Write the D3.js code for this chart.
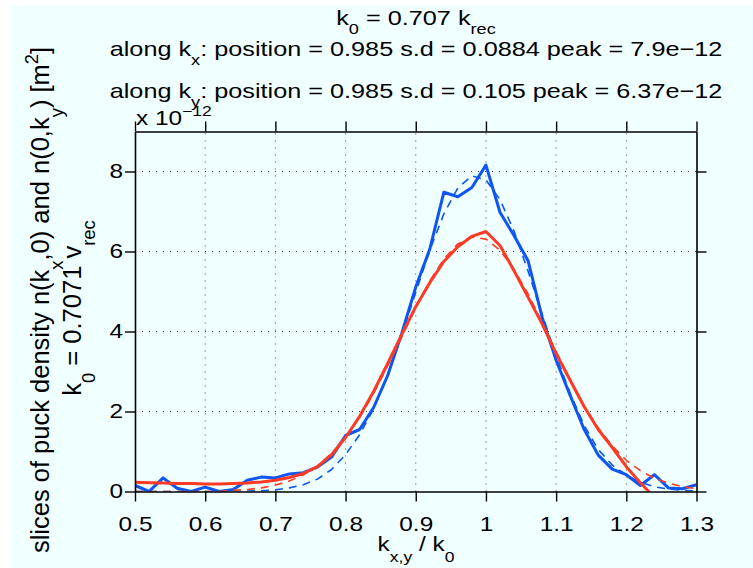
<!DOCTYPE html>
<html><head><meta charset="utf-8">
<script src="https://cdn.jsdelivr.net/npm/d3@7"></script>
<style>
body{margin:0;background:#fff}
svg text{font-family:"Liberation Sans",Arial,Helvetica,sans-serif;fill:#000}
</style>
</head><body><svg id="c" width="753" height="568"></svg>
<script>
// ---- data ----
const kValues = [0.50,0.52,0.54,0.56,0.58,0.60,0.62,0.64,0.66,0.68,0.70,0.72,0.74,0.76,0.78,0.80,0.82,0.84,0.86,0.88,0.90,0.92,0.94,0.96,0.98,1.00,1.02,1.04,1.06,1.08,1.10,1.12,1.14,1.16,1.18,1.20,1.22,1.24,1.26,1.28,1.30];
// slice along kx (units of 1e-12)
const sliceKx = [0.15,0.00,0.34,0.08,0.00,0.11,0.00,0.05,0.28,0.36,0.34,0.44,0.47,0.61,0.86,1.40,1.55,2.10,2.90,3.95,5.11,6.06,7.48,7.37,7.60,8.16,6.98,6.40,5.77,4.36,3.28,2.40,1.55,0.91,0.56,0.42,0.15,0.42,0.09,0.07,0.17];
const fitKx   = [0.00,0.00,0.00,0.00,0.00,0.00,0.00,0.00,0.01,0.02,0.04,0.09,0.17,0.31,0.55,0.92,1.42,2.07,2.91,3.90,4.98,6.03,6.94,7.59,7.89,7.79,7.30,6.51,5.51,4.43,3.39,2.46,1.65,1.05,0.66,0.41,0.23,0.12,0.06,0.03,0.01];
// slice along ky
const sliceKy = [0.23,0.22,0.21,0.20,0.20,0.19,0.19,0.20,0.21,0.24,0.28,0.35,0.45,0.62,0.92,1.35,1.88,2.50,3.20,3.92,4.62,5.22,5.75,6.12,6.38,6.50,6.15,5.52,4.86,4.19,3.45,2.78,2.12,1.55,1.10,0.62,0.22,-0.15,-0.40,-0.50,-0.50];
const fitKy   = [0.00,0.00,0.00,0.00,0.00,0.00,0.00,0.03,0.05,0.09,0.16,0.26,0.42,0.64,0.95,1.35,1.85,2.45,3.14,3.86,4.59,5.26,5.81,6.19,6.36,6.31,6.03,5.55,4.94,4.23,3.50,2.79,2.14,1.59,1.14,0.78,0.52,0.33,0.21,0.12,0.07];
const xTicks = [0.5,0.6,0.7,0.8,0.9,1.0,1.1,1.2,1.3];
const xTickLabels = ["0.5","0.6","0.7","0.8","0.9","1","1.1","1.2","1.3"];
const yTicks = [0,2,4,6,8];
const yTickLabels = ["0","2","4","6","8"];

// ---- layout ----
const SX = 1.22;
const m = {l:135, r:696.5, t:131.5, b:491.5};
const svg = d3.select("#c");
svg.append("rect").attr("x",12).attr("y",6).attr("width",741).attr("height",562).attr("fill","#f0ffff");

const x = d3.scaleLinear().domain([0.5,1.3]).range([m.l,m.r]);
const y = d3.scaleLinear().domain([0,9]).range([m.b,m.t]);

// grid
const grid = svg.append("g").attr("stroke","#444").attr("stroke-width",1).attr("stroke-dasharray","1,6");
xTicks.slice(1,-1).forEach(v=>grid.append("line").attr("x1",x(v)).attr("x2",x(v)).attr("y1",m.b).attr("y2",m.t));
yTicks.slice(1).forEach(v=>grid.append("line").attr("y1",y(v)).attr("y2",y(v)).attr("x1",m.l).attr("x2",m.r));

// lines
svg.append("defs").append("clipPath").attr("id","pc").append("rect")
  .attr("x",m.l).attr("y",m.t).attr("width",m.r-m.l).attr("height",m.b-m.t);
const line = d3.line().x(d=>x(d[0])).y(d=>y(d[1]));
const pl = svg.append("g").attr("clip-path","url(#pc)").attr("fill","none").attr("stroke-linejoin","round");
const BLUE="#0f55f2", RED="#ff3a24";
function series(vals, color, dashed){
  pl.append("path").datum(kValues.map((k,i)=>[k,vals[i]])).attr("d",line)
    .attr("stroke",color).attr("stroke-width",dashed?1.6:3)
    .attr("stroke-dasharray",dashed?"8,6":null);
}
series(sliceKx,BLUE,false);
series(fitKx,BLUE,true);
series(sliceKy,RED,false);
series(fitKy,RED,true);

// axes
function styleAxis(g){
  g.selectAll(".domain").attr("stroke","#000").attr("stroke-width",1.6);
  g.selectAll(".tick line").attr("stroke","#000").attr("stroke-width",1.4);
  g.attr("font-family",null).attr("font-size",null);
  g.selectAll("text").attr("font-size",20);
}
const gb = svg.append("g").attr("transform",`translate(0,${m.b})`)
  .call(d3.axisBottom(x).tickValues(xTicks).tickFormat((d,i)=>xTickLabels[i]).tickSize(10).tickSizeOuter(0).tickPadding(15.5));
styleAxis(gb); gb.selectAll("text").attr("transform",`scale(${SX},1)`);
const gt = svg.append("g").attr("transform",`translate(0,${m.t})`)
  .call(d3.axisTop(x).tickValues(xTicks).tickFormat("").tickSize(10).tickSizeOuter(0));
styleAxis(gt);
const gl = svg.append("g").attr("transform",`translate(${m.l},0)`)
  .call(d3.axisLeft(y).tickValues(yTicks).tickFormat((d,i)=>yTickLabels[i]).tickSize(10).tickSizeOuter(0).tickPadding(2));
styleAxis(gl); gl.selectAll("text").attr("x",-12/SX).attr("transform",`scale(${SX},1)`);
const gr = svg.append("g").attr("transform",`translate(${m.r},0)`)
  .call(d3.axisRight(y).tickValues(yTicks).tickFormat("").tickSize(10).tickSizeOuter(0));
styleAxis(gr);

// rich text helper
function rich(t, parts, fs, subShift){
  let shift = 0;
  parts.forEach(p=>{
    const target = p.sub ? subShift*fs : p.sup ? -0.45*fs : 0;
    t.append("tspan").text(p.t).attr("dy",target-shift).attr("font-size",(p.sub||p.sup)?fs*0.72:fs);
    shift = target;
  });
}
function label(xp, yp, parts, fs, anchor, rot, subShift){
  const g = svg.append("g").attr("transform",`translate(${xp},${yp})` + (rot?` rotate(-90)`:` scale(${SX},1)`));
  const t = g.append("text").attr("text-anchor",anchor||"middle").attr("font-size",fs);
  rich(t, parts, fs, subShift||0.5);
}
const TFS = 20.7;
label(416, 25, [{t:"k"},{t:"0",sub:1},{t:" = 0.707 k"},{t:"rec",sub:1}], TFS, "middle", false, 0.45);
label(416, 56, [{t:"along k"},{t:"x",sub:1},{t:": position = 0.985 s.d = 0.0884 peak = 7.9e\u221212"}], TFS, "middle", false, 0.45);
label(416, 98, [{t:"along k"},{t:"y",sub:1},{t:": position = 0.985 s.d = 0.105 peak = 6.37e\u221212"}], TFS, "middle", false, 0.45);
label(136, 125, [{t:"x 10"},{t:"\u221212",sup:1}], 20, "start");
label(416, 551, [{t:"k"},{t:"x,y",sub:1},{t:" / k"},{t:"0",sub:1}], 20, "middle", false, 0.55);
label(49, 300, [{t:"slices of puck density n(k"},{t:"x",sub:1},{t:",0) and n(0,k"},{t:"y",sub:1},{t:") [m"},{t:"2",sup:1},{t:"]"}], 25.5, "middle", true, 0.55);
label(81, 308, [{t:"k"},{t:"0",sub:1},{t:" = 0.7071 v"},{t:"rec",sub:1}], 25.5, "middle", true, 0.55);
</script></body></html>
